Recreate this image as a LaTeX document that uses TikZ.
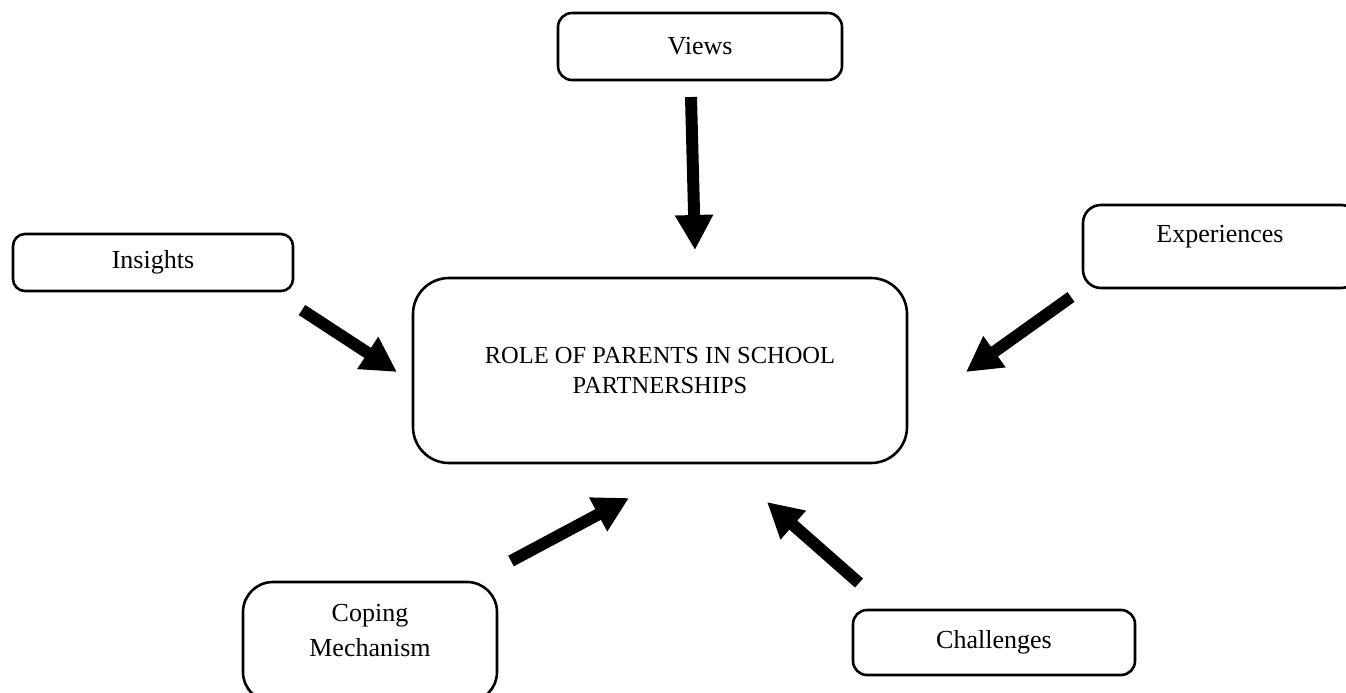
\documentclass[tikz,border=0pt]{standalone}
\usepackage{fontspec}
\setmainfont{Liberation Serif}
\usetikzlibrary{arrows.meta}
\begin{document}
\begin{tikzpicture}[x=1pt,y=-1pt,
  box/.style={draw=black,line width=2.6pt,fill=white,inner sep=0pt,align=center,
     font=\fontsize{26}{30}\selectfont},
  txt/.style={inner sep=0pt,align=center,font=\fontsize{26}{35}\selectfont},
  bigarrow/.style={line width=12pt,-{Triangle[length=35pt,width=36pt]}}]
\useasboundingbox (0,0) rectangle (1346,693);
\clip (0,0) rectangle (1346,693);
\fill[white] (0,0) rectangle (1346,693);
% boxes
\node[box,rounded corners=14pt,minimum width=284pt,minimum height=67pt] (views) at (700,46.5) {Views};
\node[box,rounded corners=12pt,minimum width=280pt,minimum height=57pt] (insights) at (153,262.5) {Insights};
\node[box,rounded corners=18pt,minimum width=276pt,minimum height=83pt] (exp) at (1221,246.5) {};
\node[txt] (exptext) at (1220,237) {Experiences};
\node[box,rounded corners=36pt,minimum width=494pt,minimum height=185pt,
      font=\fontsize{24.5}{30}\selectfont] (role) at (660,370.5) {ROLE OF PARENTS IN SCHOOL\\PARTNERSHIPS};
\node[box,rounded corners=30pt,minimum width=254pt,minimum height=120pt] (coping) at (370,642) {};
\node[txt] (copingtext) at (370,631) {Coping\\Mechanism};
\node[box,rounded corners=14pt,minimum width=282pt,minimum height=65pt] (chal) at (994,642.5) {Challenges};
% arrow ends
\coordinate (v1) at (691,97);   \coordinate (v2) at (695,250);
\coordinate (i1) at (302,310);  \coordinate (i2) at (397,372);
\coordinate (e1) at (1071,297); \coordinate (e2) at (966,372);
\coordinate (c1) at (511,561);  \coordinate (c2) at (629,498);
\coordinate (h1) at (859,583);  \coordinate (h2) at (767,502);
\draw[bigarrow] (v1) -- (v2);
\draw[bigarrow] (i1) -- (i2);
\draw[bigarrow] (e1) -- (e2);
\draw[bigarrow] (c1) -- (c2);
\draw[bigarrow] (h1) -- (h2);
\end{tikzpicture}
\end{document}
